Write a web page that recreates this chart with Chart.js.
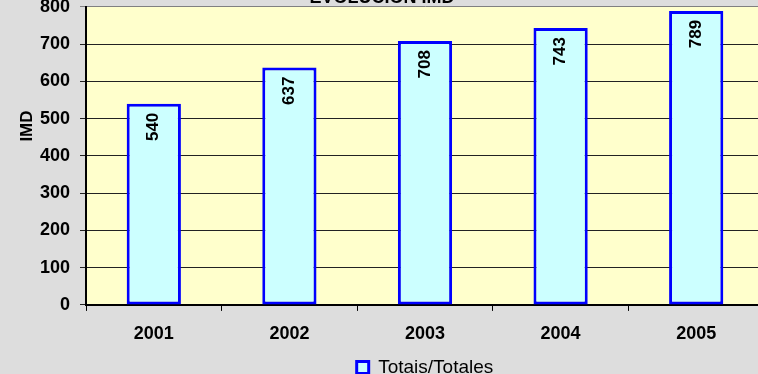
<!DOCTYPE html>
<html>
<head>
<meta charset="utf-8">
<script src="https://cdn.jsdelivr.net/npm/chart.js@4"></script>
<style>
    html, body { margin: 0; padding: 0; overflow: hidden; background: #dddddd; }
    #wrap { position: relative; width: 758px; height: 374px; overflow: hidden; }
    #chart { position: absolute; left: 0; top: -14px; }
</style>
</head>
<body>
<div id="wrap"><canvas id="chart" width="764" height="407"></canvas></div>
<script>
// datos del gráfico
const years = ['2001', '2002', '2003', '2004', '2005'];
const totals = [540, 637, 708, 743, 789];
const seriesName = 'Totais/Totales';
const chartTitle = 'EVOLUCIÓN IMD';
const yTitle = 'IMD';

const FONT = "'Liberation Sans', Arial, sans-serif";

// fondo amarillo del área de trazado
const plotBackground = {
    id: 'plotBackground',
    beforeDraw(chart) {
        const { ctx, chartArea } = chart;
        ctx.save();
        ctx.fillStyle = '#ffffcc';
        ctx.fillRect(chartArea.left, chartArea.top, chartArea.right - chartArea.left, chartArea.bottom - chartArea.top);
        ctx.restore();
    }
};

// etiquetas verticales dentro de las barras + título del eje
const barLabels = {
    id: 'barLabels',
    afterDatasetsDraw(chart) {
        const { ctx, chartArea } = chart;
        const meta = chart.getDatasetMeta(0);
        ctx.save();
        ctx.fillStyle = '#000';
        ctx.font = 'bold 17px ' + FONT;
        meta.data.forEach((bar, i) => {
            ctx.save();
            ctx.translate(bar.x, bar.y + 9);
            ctx.rotate(-Math.PI / 2);
            ctx.textAlign = 'right';
            ctx.textBaseline = 'middle';
            ctx.fillText(String(totals[i]), 0, 0);
            ctx.restore();
        });
        // IMD
        ctx.translate(27, chartArea.top + (chartArea.bottom - chartArea.top) * 0.4);
        ctx.rotate(-Math.PI / 2);
        ctx.textAlign = 'center';
        ctx.textBaseline = 'middle';
        ctx.font = 'bold 17px ' + FONT;
        ctx.fillText(yTitle, 0, 0);
        ctx.restore();
    }
};

new Chart(document.getElementById('chart').getContext('2d'), {
    type: 'bar',
    data: {
        labels: years,
        datasets: [{
            label: seriesName,
            data: totals,
            backgroundColor: '#ccffff',
            borderColor: '#0000ff',
            borderWidth: 3,
            borderSkipped: false,
            barPercentage: 0.8,
            categoryPercentage: 0.5
        }]
    },
    options: {
        responsive: false,
        animation: false,
        layout: { padding: { left: 0, right: 0, top: 0, bottom: 6 } },
        plugins: {
            title: {
                display: true,
                text: chartTitle,
                color: '#000',
                font: { family: FONT, size: 18, weight: 'bold', lineHeight: 1 },
                padding: { top: 0, bottom: 0 }
            },
            legend: {
                position: 'bottom',
                fullSize: false,
                labels: {
                    color: '#000',
                    font: { family: FONT, size: 19 },
                    boxWidth: 12,
                    boxHeight: 12,
                    padding: 1.5
                }
            },
            tooltip: { enabled: false }
        },
        scales: {
            x: {
                grid: {
                    offset: true,
                    drawOnChartArea: false,
                    tickLength: 6,
                    color: '#000'
                },
                border: { display: true, color: '#000', width: 2 },
                ticks: {
                    color: '#000',
                    padding: 12,
                    font: { family: FONT, size: 18, weight: 'bold' }
                }
            },
            y: {
                min: 0,
                max: 800,
                afterFit(scale) { scale.width = 86; },
                grid: {
                    color: ctx => (ctx.tick && ctx.tick.value === 800 ? '#808080' : '#222'),
                    lineWidth: 1,
                    tickLength: 6
                },
                border: { display: true, color: '#000', width: 2 },
                ticks: {
                    stepSize: 100,
                    color: '#000',
                    padding: 10,
                    font: { family: FONT, size: 18, weight: 'bold' }
                }
            }
        }
    },
    plugins: [plotBackground, barLabels]
});
</script>
</body>
</html>
